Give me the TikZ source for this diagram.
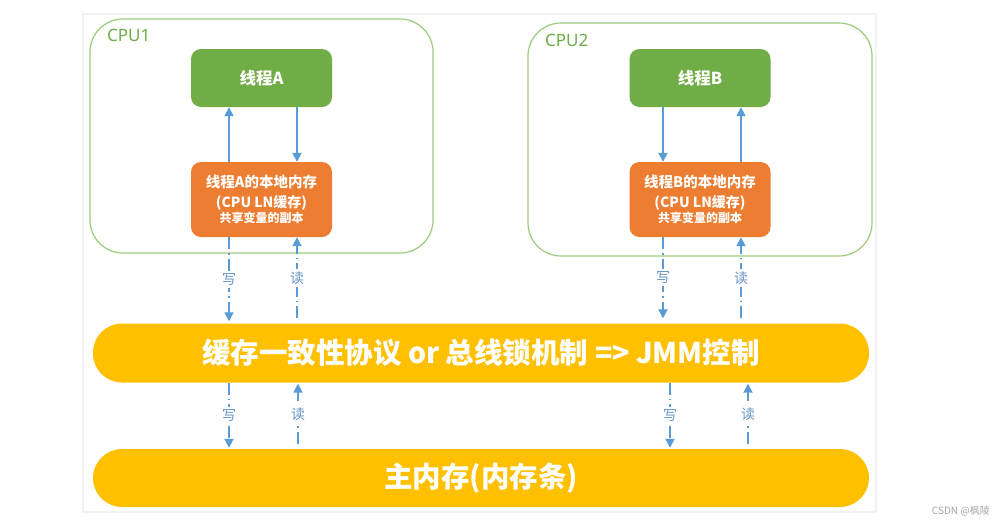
\documentclass[tikz,border=0pt]{standalone}
\usepackage{fontspec}
\setmainfont{Noto Sans CJK SC}
\newfontfamily\latf{Noto Sans}
\usetikzlibrary{arrows.meta,calc}
\definecolor{tgreen}{HTML}{70AD47}
\definecolor{cpuline}{HTML}{9CCB7C}
\definecolor{torange}{HTML}{ED7D31}
\definecolor{tyellow}{HTML}{FFC000}
\definecolor{tblue}{HTML}{5B9BD5}
\definecolor{lblue}{HTML}{6A95C6}
\definecolor{framegray}{HTML}{F2F2F0}
\tikzset{
  cpubox/.style={draw=cpuline, line width=1.2pt, rounded corners=33pt, inner sep=0pt},
  thread/.style={fill=tgreen, rounded corners=10pt, minimum width=141pt, minimum height=58pt, inner sep=0pt, text=white, font=\bfseries\fontsize{16.5}{18}\selectfont},
  localmem/.style={fill=torange, rounded corners=10pt, minimum width=141pt, minimum height=75pt, inner sep=0pt, text=white, align=center, font=\bfseries\fontsize{14.5}{17}\selectfont},
  pill/.style={fill=tyellow, rounded corners=29pt, minimum width=776pt, minimum height=59pt, inner sep=0pt, text=white, font=\bfseries\fontsize{28.5}{32}\selectfont},
  solidarrow/.style={draw=tblue, line width=1.8pt, -{Triangle[width=9pt,length=9pt]}},
  dasharrow/.style={draw=tblue, line width=1.8pt, dash pattern=on 12pt off 4pt on 1.5pt off 4pt, -{Triangle[width=9pt,length=9pt]}},
  rwlabel/.style={fill=white, inner sep=2.5pt, text=lblue, font=\fontsize{14}{15}\selectfont},
  cpulabel/.style={text=tgreen, font=\latf\fontsize{17}{19}\selectfont, anchor=west, inner sep=0pt}
}
\newcommand{\memtext}[1]{{\fontsize{14.5}{17}\selectfont 线程#1的本地内存}\\[3pt]{\fontsize{14}{17}\selectfont (CPU LN缓存)}\\[-2pt]{\fontsize{12}{17}\selectfont 共享变量的副本}}
\begin{document}
\begin{tikzpicture}[x=1pt,y=-1pt]
\useasboundingbox (0,0) rectangle (1004,528);
\fill[white] (0,0) rectangle (1004,528);
\draw[framegray, line width=2pt, fill=white] (83,14) rectangle (876,512);

% CPU boxes
\node[cpubox, minimum width=343pt, minimum height=234pt] (cpu1) at (261.5,136) {};
\node[cpubox, minimum width=344pt, minimum height=233pt] (cpu2) at (700,139.5) {};
\node[cpulabel] (cpu1l) at (107,35.5) {CPU1};
\node[cpulabel] (cpu2l) at (545,40) {CPU2};

% threads
\node[thread] (ta) at (261.5,78) {线程A};
\node[thread] (tb) at (700,78) {线程B};

% local memories
\node[localmem] (ma) at (261.5,199.5) {\memtext{A}};
\node[localmem] (mb) at (700,199.5) {\memtext{B}};

% bus and main memory
\node[pill] (bus) at (481,353) {缓存一致性协议 or 总线锁机制 => JMM控制};
\node[pill, minimum height=58pt] (mm) at (481,478) {主内存(内存条)};

% x positions of connectors
\coordinate (xa1) at (229,0);
\coordinate (xa2) at (297,0);
\coordinate (xb1) at (663,0);
\coordinate (xb2) at (741,0);
\coordinate (xc1) at (229,0);
\coordinate (xc2) at (298,0);
\coordinate (xd1) at (670,0);
\coordinate (xd2) at (748,0);

% thread <-> local memory
\draw[solidarrow] (ma.north -| xa1) -- (ta.south -| xa1);
\draw[solidarrow] (ta.south -| xa2) -- (ma.north -| xa2);
\draw[solidarrow] (tb.south -| xb1) -- (mb.north -| xb1);
\draw[solidarrow] (mb.north -| xb2) -- (tb.south -| xb2);

% local memory <-> bus
\draw[dasharrow] (ma.south -| xa1) -- node[rwlabel, pos=0.5] (wa) {写} ($(bus.north -| xa1)+(0,-2)$);
\draw[dasharrow] ($(bus.north -| xa2)+(0,-5)$) -- node[rwlabel, pos=0.5] (ra) {读} (ma.south -| xa2);
\draw[dasharrow] (mb.south -| xb1) -- node[rwlabel, pos=0.5] (wb) {写} ($(bus.north -| xb1)+(0,-5)$);
\draw[dasharrow] ($(bus.north -| xb2)+(0,-5)$) -- node[rwlabel, pos=0.5] (rb) {读} (mb.south -| xb2);

% bus <-> main memory
\draw[dasharrow] (bus.south -| xc1) -- node[rwlabel, pos=0.5] (wc) {写} ($(mm.north -| xc1)+(0,-1)$);
\draw[dasharrow] ($(mm.north -| xc2)+(0,-5)$) -- node[rwlabel, pos=0.5] (rc) {读} ($(bus.south -| xc2)+(0,1)$);
\draw[dasharrow] (bus.south -| xd1) -- node[rwlabel, pos=0.5] (wd) {写} ($(mm.north -| xd1)+(0,-1)$);
\draw[dasharrow] ($(mm.north -| xd2)+(0,-5)$) -- node[rwlabel, pos=0.5] (rd) {读} ($(bus.south -| xd2)+(0,1)$);

% watermark
\node[text=gray!70, font=\fontsize{10}{12}\selectfont, anchor=east, inner sep=0pt] (wm) at (990,511) {CSDN @枫陵};
\end{tikzpicture}
\end{document}
